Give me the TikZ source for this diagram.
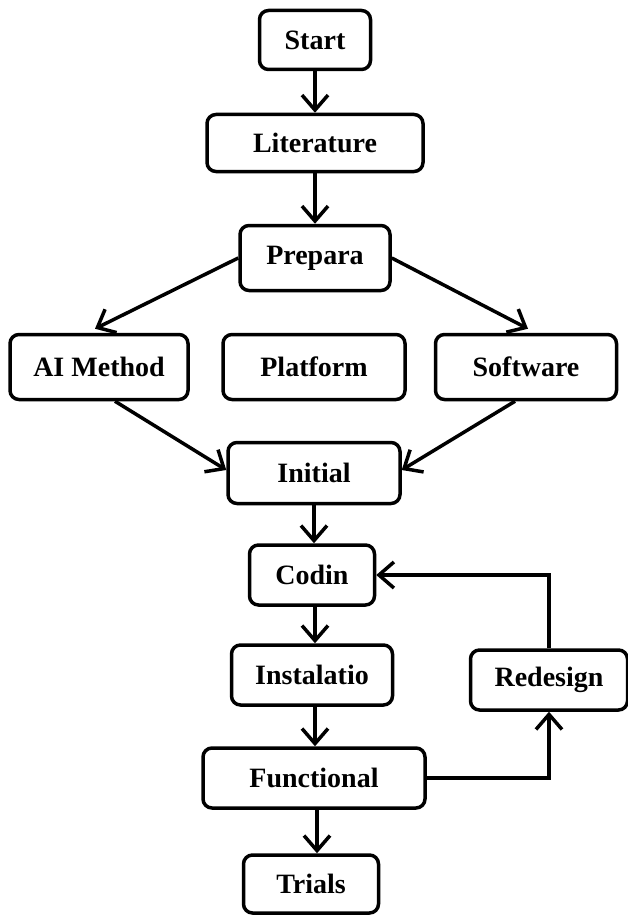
\documentclass[tikz,border=0pt]{standalone}
\usepackage{fontspec}
\setmainfont{Liberation Serif}
\usetikzlibrary{arrows.meta}
\begin{document}
\begin{tikzpicture}[x=1pt,y=-1pt,
  box/.style={draw=black, line width=3.5pt, rounded corners=9pt, fill=white,
    inner sep=0pt, align=center, font=\fontsize{28}{32}\selectfont\bfseries},
  arr/.style={line width=3.5pt, -{Straight Barb[length=15pt,width=26pt,line width=3.5pt]}}]
\useasboundingbox (0,0) rectangle (628,915);
\node[box, minimum width=111pt, minimum height=59pt] (start) at (315,40) {Start};
\node[box, minimum width=216pt, minimum height=57pt] (lit) at (315,143) {Literature};
\node[box, minimum width=150pt, minimum height=65pt] (prep) at (315,258) {Prepara};
\node[box, minimum width=178pt, minimum height=65pt] (aim) at (99,367) {AI Method};
\node[box, minimum width=182pt, minimum height=65pt] (plat) at (314,367) {Platform};
\node[box, minimum width=181pt, minimum height=65pt] (soft) at (526,367) {Software};
\node[box, minimum width=172pt, minimum height=61pt] (init) at (314,473) {Initial};
\node[box, minimum width=125pt, minimum height=60pt] (codin) at (312,575) {Codin};
\node[box, minimum width=161pt, minimum height=60pt] (inst) at (312,675) {Instalatio};
\node[box, minimum width=157pt, minimum height=60pt] (red) at (549,680) {Redesign};
\node[box, minimum width=222pt, minimum height=60pt] (func) at (314,778) {Functional};
\node[box, minimum width=135pt, minimum height=58pt] (trials) at (311,884) {Trials};
\draw[arr] (start.south) -- (start.south |- lit.north);
\draw[arr] (lit.south) -- (lit.south |- prep.north);
\draw[arr] (prep.west) -- ([xshift=-4pt,yshift=4pt]aim.north);
\draw[arr] (prep.east) -- ([xshift=2pt,yshift=4pt]soft.north);
\draw[arr] ([xshift=16pt]aim.south) -- ([yshift=3pt]init.west);
\draw[arr] ([xshift=-11pt]soft.south) -- ([yshift=3pt]init.east);
\draw[arr] (init.south) -- (init.south |- codin.north);
\draw[arr] ([xshift=3pt]codin.south) -- ([xshift=3pt]codin.south |- inst.north);
\draw[arr] ([xshift=3pt]inst.south) -- ([xshift=3pt]inst.south |- func.north);
\draw[arr] ([xshift=3pt]func.south) -- ([xshift=3pt]func.south |- trials.north);
\draw[arr] (func.east) -- (func.east -| red.south) -- (red.south);
\draw[arr] (red.north) |- (codin.east);
\end{tikzpicture}
\end{document}
